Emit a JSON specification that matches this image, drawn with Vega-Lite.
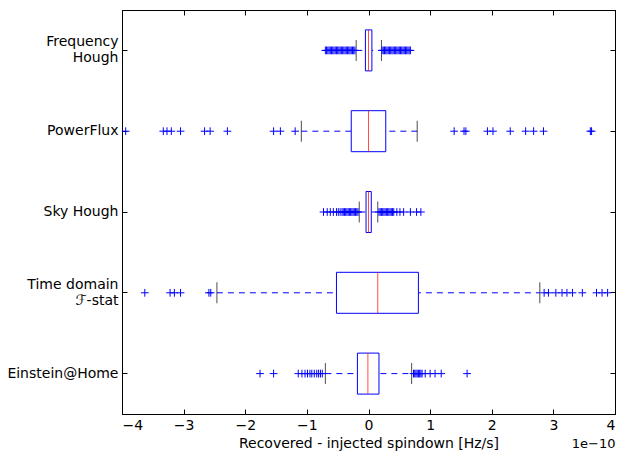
{
  "$schema": "https://vega.github.io/schema/vega-lite/v6.json",
  "width": 493,
  "height": 404,
  "autosize": {"type": "none"},
  "padding": {"left": 122, "top": 10, "right": 5, "bottom": 41},
  "title": {"text": "1e−10", "orient": "bottom", "anchor": "end", "fontSize": 13, "font": "DejaVu Sans", "fontWeight": "normal", "color": "black", "offset": -12},
  "datasets": {
    "summary": [
      {"cat": "Frequency\nHough", "lo": -0.2, "q1": -0.05, "med": 0.0, "q3": 0.055, "hi": 0.21},
      {"cat": "PowerFlux", "lo": -1.09, "q1": -0.28, "med": 0.0, "q3": 0.28, "hi": 0.79},
      {"cat": "Sky Hough", "lo": -0.15, "q1": -0.04, "med": 0.0, "q3": 0.045, "hi": 0.15},
      {"cat": "Time domain\nℱ-stat", "lo": -2.46, "q1": -0.52, "med": 0.15, "q3": 0.81, "hi": 2.78},
      {"cat": "Einstein@Home", "lo": -0.7, "q1": -0.18, "med": -0.01, "q3": 0.17, "hi": 0.7}
    ],
    "outliers": [
      {"cat": "Frequency\nHough", "v": -0.70}, {"cat": "Frequency\nHough", "v": -0.68}, {"cat": "Frequency\nHough", "v": -0.66}, {"cat": "Frequency\nHough", "v": -0.64},
      {"cat": "Frequency\nHough", "v": -0.62}, {"cat": "Frequency\nHough", "v": -0.60}, {"cat": "Frequency\nHough", "v": -0.58}, {"cat": "Frequency\nHough", "v": -0.56},
      {"cat": "Frequency\nHough", "v": -0.54}, {"cat": "Frequency\nHough", "v": -0.52}, {"cat": "Frequency\nHough", "v": -0.50}, {"cat": "Frequency\nHough", "v": -0.48},
      {"cat": "Frequency\nHough", "v": -0.46}, {"cat": "Frequency\nHough", "v": -0.44}, {"cat": "Frequency\nHough", "v": -0.42}, {"cat": "Frequency\nHough", "v": -0.40},
      {"cat": "Frequency\nHough", "v": -0.38}, {"cat": "Frequency\nHough", "v": -0.36}, {"cat": "Frequency\nHough", "v": -0.34}, {"cat": "Frequency\nHough", "v": -0.32},
      {"cat": "Frequency\nHough", "v": -0.30}, {"cat": "Frequency\nHough", "v": -0.28}, {"cat": "Frequency\nHough", "v": -0.26}, {"cat": "Frequency\nHough", "v": -0.24},
      {"cat": "Frequency\nHough", "v": -0.22},
      {"cat": "Frequency\nHough", "v": 0.22}, {"cat": "Frequency\nHough", "v": 0.24}, {"cat": "Frequency\nHough", "v": 0.26}, {"cat": "Frequency\nHough", "v": 0.28},
      {"cat": "Frequency\nHough", "v": 0.30}, {"cat": "Frequency\nHough", "v": 0.32}, {"cat": "Frequency\nHough", "v": 0.34}, {"cat": "Frequency\nHough", "v": 0.36},
      {"cat": "Frequency\nHough", "v": 0.38}, {"cat": "Frequency\nHough", "v": 0.40}, {"cat": "Frequency\nHough", "v": 0.42}, {"cat": "Frequency\nHough", "v": 0.44},
      {"cat": "Frequency\nHough", "v": 0.46}, {"cat": "Frequency\nHough", "v": 0.48}, {"cat": "Frequency\nHough", "v": 0.50}, {"cat": "Frequency\nHough", "v": 0.52},
      {"cat": "Frequency\nHough", "v": 0.54}, {"cat": "Frequency\nHough", "v": 0.56}, {"cat": "Frequency\nHough", "v": 0.58}, {"cat": "Frequency\nHough", "v": 0.60},
      {"cat": "Frequency\nHough", "v": 0.62}, {"cat": "Frequency\nHough", "v": 0.64}, {"cat": "Frequency\nHough", "v": 0.66}, {"cat": "Frequency\nHough", "v": 0.68},
      {"cat": "PowerFlux", "v": -3.94}, {"cat": "PowerFlux", "v": -3.33}, {"cat": "PowerFlux", "v": -3.27}, {"cat": "PowerFlux", "v": -3.20},
      {"cat": "PowerFlux", "v": -3.05}, {"cat": "PowerFlux", "v": -2.66}, {"cat": "PowerFlux", "v": -2.57}, {"cat": "PowerFlux", "v": -2.29},
      {"cat": "PowerFlux", "v": -1.54}, {"cat": "PowerFlux", "v": -1.43}, {"cat": "PowerFlux", "v": -1.19},
      {"cat": "PowerFlux", "v": 1.39}, {"cat": "PowerFlux", "v": 1.55}, {"cat": "PowerFlux", "v": 1.58}, {"cat": "PowerFlux", "v": 1.93},
      {"cat": "PowerFlux", "v": 2.02}, {"cat": "PowerFlux", "v": 2.30}, {"cat": "PowerFlux", "v": 2.55}, {"cat": "PowerFlux", "v": 2.68},
      {"cat": "PowerFlux", "v": 2.84}, {"cat": "PowerFlux", "v": 3.60}, {"cat": "PowerFlux", "v": 3.62},
      {"cat": "Sky Hough", "v": -0.73}, {"cat": "Sky Hough", "v": -0.67}, {"cat": "Sky Hough", "v": -0.62}, {"cat": "Sky Hough", "v": -0.57},
      {"cat": "Sky Hough", "v": -0.52}, {"cat": "Sky Hough", "v": -0.49}, {"cat": "Sky Hough", "v": -0.46}, {"cat": "Sky Hough", "v": -0.43},
      {"cat": "Sky Hough", "v": -0.41}, {"cat": "Sky Hough", "v": -0.39}, {"cat": "Sky Hough", "v": -0.37}, {"cat": "Sky Hough", "v": -0.35},
      {"cat": "Sky Hough", "v": -0.33}, {"cat": "Sky Hough", "v": -0.31}, {"cat": "Sky Hough", "v": -0.29}, {"cat": "Sky Hough", "v": -0.27},
      {"cat": "Sky Hough", "v": -0.25}, {"cat": "Sky Hough", "v": -0.23}, {"cat": "Sky Hough", "v": -0.21}, {"cat": "Sky Hough", "v": -0.19},
      {"cat": "Sky Hough", "v": -0.17},
      {"cat": "Sky Hough", "v": 0.17}, {"cat": "Sky Hough", "v": 0.19}, {"cat": "Sky Hough", "v": 0.21}, {"cat": "Sky Hough", "v": 0.23},
      {"cat": "Sky Hough", "v": 0.25}, {"cat": "Sky Hough", "v": 0.27}, {"cat": "Sky Hough", "v": 0.29}, {"cat": "Sky Hough", "v": 0.31},
      {"cat": "Sky Hough", "v": 0.33}, {"cat": "Sky Hough", "v": 0.35}, {"cat": "Sky Hough", "v": 0.37}, {"cat": "Sky Hough", "v": 0.39},
      {"cat": "Sky Hough", "v": 0.41}, {"cat": "Sky Hough", "v": 0.46}, {"cat": "Sky Hough", "v": 0.51}, {"cat": "Sky Hough", "v": 0.57},
      {"cat": "Sky Hough", "v": 0.68}, {"cat": "Sky Hough", "v": 0.78}, {"cat": "Sky Hough", "v": 0.85},
      {"cat": "Time domain\nℱ-stat", "v": -3.63}, {"cat": "Time domain\nℱ-stat", "v": -3.22}, {"cat": "Time domain\nℱ-stat", "v": -3.15},
      {"cat": "Time domain\nℱ-stat", "v": -3.05}, {"cat": "Time domain\nℱ-stat", "v": -2.59}, {"cat": "Time domain\nℱ-stat", "v": -2.56},
      {"cat": "Time domain\nℱ-stat", "v": 2.85}, {"cat": "Time domain\nℱ-stat", "v": 2.92}, {"cat": "Time domain\nℱ-stat", "v": 3.04},
      {"cat": "Time domain\nℱ-stat", "v": 3.14}, {"cat": "Time domain\nℱ-stat", "v": 3.22}, {"cat": "Time domain\nℱ-stat", "v": 3.31},
      {"cat": "Time domain\nℱ-stat", "v": 3.47}, {"cat": "Time domain\nℱ-stat", "v": 3.70}, {"cat": "Time domain\nℱ-stat", "v": 3.79},
      {"cat": "Time domain\nℱ-stat", "v": 3.88},
      {"cat": "Einstein@Home", "v": -1.76}, {"cat": "Einstein@Home", "v": -1.54}, {"cat": "Einstein@Home", "v": -1.14}, {"cat": "Einstein@Home", "v": -1.08},
      {"cat": "Einstein@Home", "v": -1.03}, {"cat": "Einstein@Home", "v": -0.99}, {"cat": "Einstein@Home", "v": -0.95}, {"cat": "Einstein@Home", "v": -0.92},
      {"cat": "Einstein@Home", "v": -0.88}, {"cat": "Einstein@Home", "v": -0.84}, {"cat": "Einstein@Home", "v": -0.81}, {"cat": "Einstein@Home", "v": -0.78},
      {"cat": "Einstein@Home", "v": -0.75},
      {"cat": "Einstein@Home", "v": 0.73}, {"cat": "Einstein@Home", "v": 0.75}, {"cat": "Einstein@Home", "v": 0.77}, {"cat": "Einstein@Home", "v": 0.79},
      {"cat": "Einstein@Home", "v": 0.81}, {"cat": "Einstein@Home", "v": 0.83}, {"cat": "Einstein@Home", "v": 0.85}, {"cat": "Einstein@Home", "v": 0.87},
      {"cat": "Einstein@Home", "v": 0.92}, {"cat": "Einstein@Home", "v": 1.00}, {"cat": "Einstein@Home", "v": 1.08}, {"cat": "Einstein@Home", "v": 1.18},
      {"cat": "Einstein@Home", "v": 1.60}
    ]
  },
  "resolve": {"axis": {"x": "independent", "y": "independent"}},
  "layer": [
    {
      "data": {"name": "summary"},
      "mark": {"type": "rule", "color": "#0000ff", "strokeDash": [6, 5], "strokeWidth": 1},
      "encoding": {
        "y": {
          "field": "cat", "type": "nominal",
          "scale": {"type": "band", "domain": ["Frequency\nHough", "PowerFlux", "Sky Hough", "Time domain\nℱ-stat", "Einstein@Home"], "paddingInner": 0, "paddingOuter": 0},
          "axis": {"orient": "left", "title": null, "tickSize": -5, "labelPadding": 9, "labelExpr": "split(datum.label, '\\n')", "labelLineHeight": 16,
                   "labelOffset": {"condition": {"test": "indexof(datum.value, '\\n') >= 0", "value": -8}, "value": 0}}
        },
        "x": {
          "field": "lo", "type": "quantitative",
          "scale": {"domain": [-4, 4], "nice": false, "zero": false},
          "axis": {"orient": "bottom", "values": [-4, -3, -2, -1, 0, 1, 2, 3, 4], "format": "d", "tickSize": -5, "labelPadding": 9, "title": "Recovered - injected spindown [Hz/s]", "titlePadding": 4}
        },
        "x2": {"field": "hi"}
      }
    },
    {
      "data": {"name": "summary"},
      "mark": {"type": "bar", "fill": "white", "stroke": "#0000ff", "strokeWidth": 1, "size": 41},
      "encoding": {
        "y": {"field": "cat", "type": "nominal", "axis": null},
        "x": {"field": "q1", "type": "quantitative", "axis": null},
        "x2": {"field": "q3"}
      }
    },
    {
      "data": {"name": "summary"},
      "mark": {"type": "tick", "color": "#ff0000", "size": 41, "thickness": 1},
      "encoding": {
        "y": {"field": "cat", "type": "nominal", "axis": null},
        "x": {"field": "med", "type": "quantitative", "axis": null}
      }
    },
    {
      "data": {"name": "summary"},
      "mark": {"type": "tick", "color": "black", "size": 21, "thickness": 1},
      "encoding": {
        "y": {"field": "cat", "type": "nominal", "axis": null},
        "x": {"field": "lo", "type": "quantitative", "axis": null}
      }
    },
    {
      "data": {"name": "summary"},
      "mark": {"type": "tick", "color": "black", "size": 21, "thickness": 1},
      "encoding": {
        "y": {"field": "cat", "type": "nominal", "axis": null},
        "x": {"field": "hi", "type": "quantitative", "axis": null}
      }
    },
    {
      "data": {"name": "outliers"},
      "mark": {"type": "point", "shape": "M-1,0H1M0,-1V1", "filled": false, "stroke": "#0000ff", "strokeWidth": 1, "size": 60, "opacity": 1},
      "encoding": {
        "y": {"field": "cat", "type": "nominal", "axis": {"orient": "right", "labels": false, "title": null, "tickSize": -5}},
        "x": {"field": "v", "type": "quantitative", "axis": {"orient": "top", "labels": false, "title": null, "tickSize": -5, "values": [-4, -3, -2, -1, 0, 1, 2, 3, 4]}}
      }
    }
  ],
  "config": {
    "font": "DejaVu Sans",
    "view": {"stroke": "black", "strokeWidth": 1},
    "axis": {
      "labelFont": "DejaVu Sans", "labelFontSize": 14, "labelColor": "black",
      "domainColor": "black", "tickColor": "black", "grid": false,
      "titleFont": "DejaVu Sans", "titleFontSize": 14, "titleFontWeight": "normal", "titleColor": "black"
    }
  }
}
